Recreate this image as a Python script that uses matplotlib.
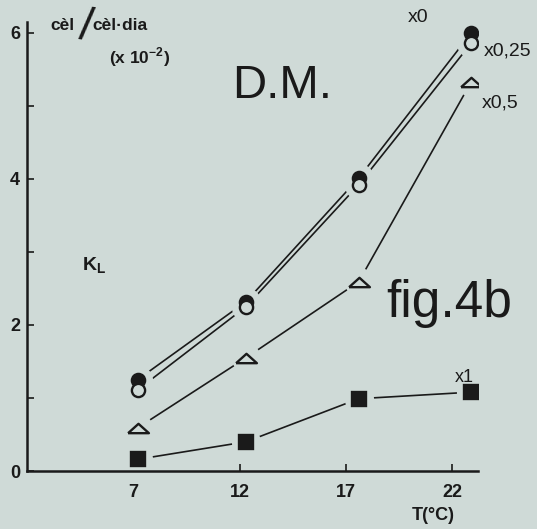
import matplotlib
matplotlib.use("Agg")
import matplotlib.pyplot as plt

# data (K_L, cel/cel.dia x 10^-2)
temps = [7, 12, 17, 22]
x_pos = [7.2, 12.3, 17.6, 22.9]      # markers sit a bit right of the ticks
k_x0 = [1.25, 2.32, 4.01, 6.0]
k_x025 = [1.11, 2.25, 3.92, 5.86]
k_x05 = [0.59, 1.55, 2.59, 5.33]
k_x1 = [0.16, 0.40, 0.99, 1.08]

BG = '#cfdad7'
INK = '#1a1a1a'
plt.rcParams['font.family'] = ['Liberation Sans', 'DejaVu Sans']

fig = plt.figure(figsize=(5.37, 5.29), dpi=100)
fig.patch.set_facecolor(BG)
ax = fig.add_axes([0.0503, 0.1096, 0.840, 0.849])
ax.set_facecolor(BG)

tri = [(-1, -0.45), (1, -0.45), (0, 0.45), (-1, -0.45)]

series = [
    (k_x0, 'o', INK, 9.5),
    (k_x025, 'o', BG, 9.5),
    (k_x05, tri, BG, 15),
    (k_x1, 's', INK, 9.5),
]

# lines first, then a background halo so the lines stop short of the markers
for ys, m, fc, ms in series:
    ax.plot(x_pos, ys, '-', color=INK, lw=1.2, zorder=1)
for ys, m, fc, ms in series:
    ax.plot(x_pos, ys, 'o', ls='none', ms=21, mfc=BG, mec='none', zorder=2)
for ys, m, fc, ms in series:
    ax.plot(x_pos, ys, marker=m, ls='none', ms=ms, mfc=fc, mec=INK,
            mew=1.7, zorder=3)

ax.set_xlim(2.0, 23.22)
ax.set_ylim(0, 6.15)
for s in ['top', 'right']:
    ax.spines[s].set_visible(False)
for s in ['left', 'bottom']:
    ax.spines[s].set_linewidth(1.8)
    ax.spines[s].set_color(INK)

ax.set_xticks(temps)
ax.set_xticklabels([str(t) for t in temps])
ax.set_yticks([0, 1, 2, 3, 4, 5, 6])
ax.set_yticklabels(['0', '', '2', '', '4', '', '6'])
ax.tick_params(axis='both', direction='in', length=5, width=1.2, color=INK,
               labelsize=13, labelcolor=INK)
ax.tick_params(axis='y', pad=5)
ax.tick_params(axis='x', pad=9)
for lab in ax.get_xticklabels() + ax.get_yticklabels():
    lab.set_fontweight('bold')

# annotations
def ftext(px, py, s, **kw):
    fig.text(px / 537, 1 - py / 529, s, color=INK, **kw)

ftext(50, 25, 'cèl', fontsize=12.5, fontweight='bold', va='center')
ftext(86, 28, '/', fontsize=34, va='center', ha='center', rotation=-8)
ftext(92, 25, 'cèl·dia', fontsize=12.5, fontweight='bold', va='center')
ftext(109, 57, '(x 10$^{\\mathregular{-2}}$)', fontsize=12.5, fontweight='bold',
      va='center')
ftext(232, 86, 'D.M.', fontsize=34, va='center')
ftext(386, 303, 'fig.4b', fontsize=37, va='center')
ftext(82, 266, 'K$_{\\mathregular{L}}$', fontsize=14, fontweight='bold', va='center')
ftext(408, 18, 'x0', fontsize=14, va='center')
ftext(484, 51, 'x0,25', fontsize=14, va='center')
ftext(482, 103, 'x0,5', fontsize=14, va='center')
ftext(455, 377, 'x1', fontsize=13, va='center')
ftext(412, 515, 'T(°C)', fontsize=13, fontweight='bold', va='center')

fig.savefig('out.png', dpi=100, facecolor=BG)
